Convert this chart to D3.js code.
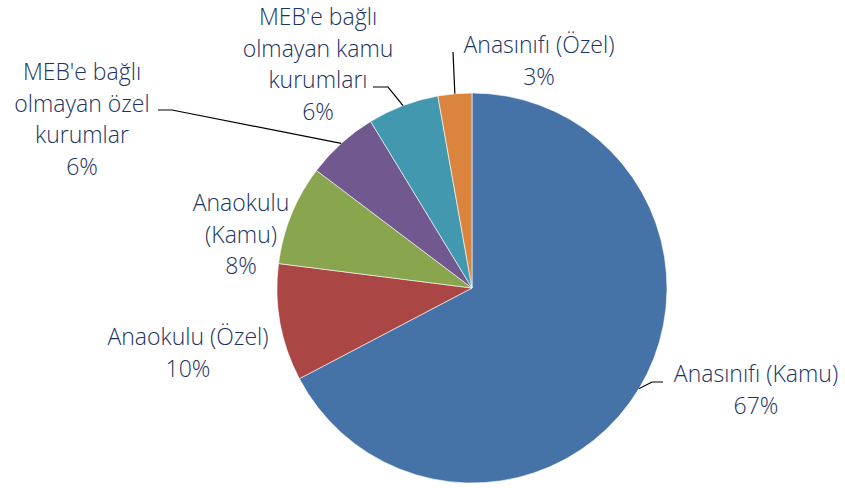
<!DOCTYPE html>
<html>
<head>
<meta charset="utf-8">
<script src="https://cdn.jsdelivr.net/npm/d3@7"></script>
<style>
  html, body { margin: 0; padding: 0; background: #fff; }
  svg { display: block; }
</style>
</head>
<body>
<div id="pie"></div>
<script>
// Data (shares in %, clockwise from 12 o'clock)
const categories = [
  "Anasınıfı (Kamu)",
  "Anaokulu (Özel)",
  "Anaokulu (Kamu)",
  "MEB'e bağlı olmayan özel kurumlar",
  "MEB'e bağlı olmayan kamu kurumları",
  "Anasınıfı (Özel)"
];
const values = [67.3, 9.7, 8.3, 6.0, 5.9, 2.8];
const percentLabels = ["67%", "10%", "8%", "6%", "6%", "3%"];
// how each label is wrapped
const labelLines = [
  ["Anasınıfı (Kamu)"],
  ["Anaokulu (Özel)"],
  ["Anaokulu", "(Kamu)"],
  ["MEB'e bağlı", "olmayan özel", "kurumlar"],
  ["MEB'e bağlı", "olmayan kamu", "kurumları"],
  ["Anasınıfı (Özel)"]
];
const colorRange = ["#4572a7", "#aa4643", "#89a54e", "#71588f", "#4198af", "#db843d"];

const width = 845, height = 488;
const cx = 472, cy = 288, radius = 195;
const lineH = 31.5;

// label placement: centre x, first baseline, optional leader (text end, elbow)
const layout = [
  {x: 756, y: 382, leader: [[663, 382], [652, 382]]},
  {x: 188, y: 345},
  {x: 241, y: 211},
  {x: 82, y: 80, leader: [[158, 110], [172, 110]]},
  {x: 318, y: 25, leader: [[373, 87], [388, 87]]},
  {x: 539, y: 53, leader: [[453, 52]]}
];

const svg = d3.select("#pie")
  .append("svg")
  .attr("width", width)
  .attr("height", height)
  .attr("viewBox", [0, 0, width, height]);

const colors = d3.scaleOrdinal().domain(categories).range(colorRange);

const data = categories.map((c, i) => ({name: c, value: values[i], pct: percentLabels[i], lines: labelLines[i], pos: layout[i]}));

const pie = d3.pie().value(d => d.value).sort(null);
const arc = d3.arc().innerRadius(0).outerRadius(radius);

const g = svg.append("g").attr("transform", `translate(${cx},${cy})`);
const arcs = pie(data);

g.selectAll("path.slice")
  .data(arcs)
  .join("path")
    .attr("class", "slice")
    .attr("d", arc)
    .attr("fill", d => colors(d.data.name))
    .attr("stroke", "#ffffff")
    .attr("stroke-width", 0.6);

// leader lines: from label elbow to the arc edge at the slice middle
const edgePoint = d => {
  const a = (d.startAngle + d.endAngle) / 2;
  return [cx + Math.sin(a) * radius, cy - Math.cos(a) * radius];
};
svg.selectAll("path.leader")
  .data(arcs.filter(d => d.data.pos.leader))
  .join("path")
    .attr("class", "leader")
    .attr("d", d => d3.line()([...d.data.pos.leader, edgePoint(d)]))
    .attr("fill", "none")
    .attr("stroke", "#000")
    .attr("stroke-width", 1.2);

const labels = svg.selectAll("text.label")
  .data(arcs)
  .join("text")
    .attr("class", "label")
    .attr("text-anchor", "middle")
    .style("font-family", "'Open Sans', 'Noto Sans', sans-serif")
    .style("font-size", "23px")
    .style("font-weight", 350)
    .style("fill", "#1b3463");

labels.each(function(d) {
  const t = d3.select(this);
  const lines = [...d.data.lines, d.data.pct];
  lines.forEach((s, i) => {
    t.append("tspan")
      .attr("x", d.data.pos.x)
      .attr("y", d.data.pos.y + i * lineH)
      .text(s);
  });
});
</script>
</body>
</html>
